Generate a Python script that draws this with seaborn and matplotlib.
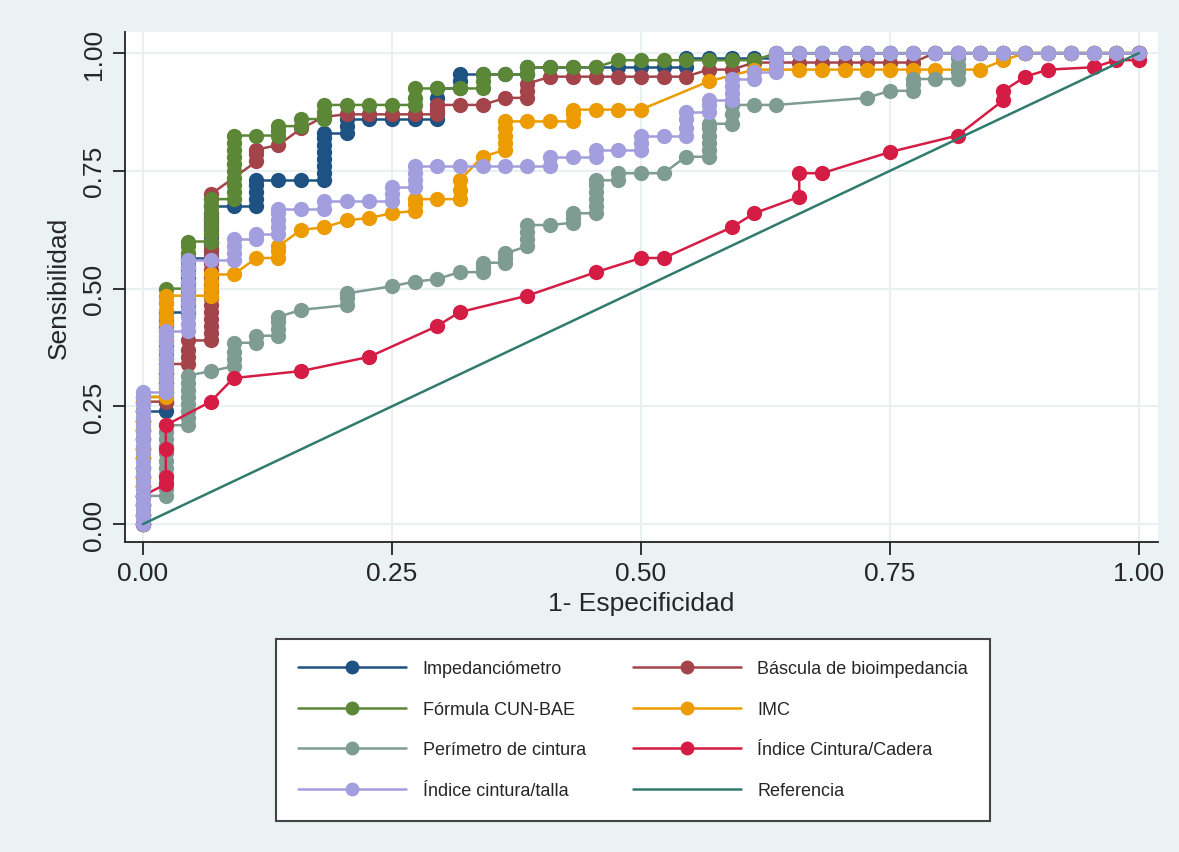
import pandas as pd
import seaborn as sns
import matplotlib.pyplot as plt
from matplotlib.lines import Line2D

# 1 - especificidad: one step per column of points (44 negatives)
fpr_steps = [0.000, 0.023, 0.045, 0.068, 0.091, 0.114, 0.136, 0.159, 0.182, 0.205,
             0.227, 0.250, 0.273, 0.295, 0.318, 0.341, 0.364, 0.386, 0.409, 0.432,
             0.455, 0.477, 0.500, 0.523, 0.545, 0.568, 0.591, 0.614, 0.636, 0.659,
             0.682, 0.705, 0.727, 0.750, 0.773, 0.795, 0.818, 0.841, 0.864, 0.886,
             0.909, 0.932, 0.955, 0.977, 1.000]

# sensitivity values read at each column (one list per column of fpr_steps)
imp_sens = [[0, .02, .04, .06, .08, .10, .12, .14, .16, .18, .20, .22, .24],
            [.24, .26, .28, .30, .32, .34, .36, .38, .40, .42, .435, .45],
            [.45, .465, .48, .495, .51, .525, .54, .555, .565],
            [.565, .58, .595, .61, .625, .64, .655, .675],
            [.675], [.675, .69, .705, .72, .73], [.73], [.73],
            [.73, .745, .76, .775, .79, .805, .82, .83], [.83, .845, .86],
            [.86], [.86], [.86], [.86, .875, .89, .905, .925], [.925, .94, .955],
            [.955], [.955], [.955, .97], [.97], [.97], [.97], [.97], [.97], [.97],
            [.97, .99], [.99], [.99], [.99], [.99, 1],
            [1], [1], [1], [1], [1], [1], [1], [1], [1], [1], [1], [1], [1], [1], [1], [1]]

bas_sens = [[0, .02, .04, .06, .08, .10, .12, .14, .16, .18, .20, .22, .24, .26],
            [.26, .28, .30, .32, .34], [.34, .355, .37, .39],
            [.39, .405, .42, .435, .45, .465, .48, .495, .51, .525, .54, .555, .57,
             .585, .60, .615, .63, .645, .66, .675, .69, .70],
            [], [.77, .785, .795], [.805], [.84], [.865],
            [.87], [.87], [.87], [.87], [.87, .88, .89], [.89], [.89], [.905],
            [.905, .92, .935], [.95], [.95], [.95], [.95], [.95], [.95], [.95],
            [.965], [.965], [.98], [.98], [.98], [.98], [.98], [.98], [.98], [.98],
            [1], [1], [1], [1], [1], [1], [1], [1], [1], [1]]

cun_sens = [[0, .02, .04, .06, .08, .10, .12, .14, .16, .18, .20, .22, .24, .26, .27],
            [.27, .29, .31, .33, .35, .37, .39, .41, .43, .45, .47, .485, .50],
            [.50, .515, .53, .545, .56, .575, .59, .60],
            [.60, .615, .63, .645, .66, .675, .69],
            [.69, .705, .72, .735, .75, .765, .78, .795, .81, .825],
            [.825], [.825, .835, .845], [.845, .86], [.86, .875, .89],
            [.89], [.89], [.89], [.89, .905, .925], [.925], [.925],
            [.925, .94, .955], [.955], [.955, .97], [.97], [.97], [.97],
            [.985], [.985], [.985], [.985], [.985], [.985], [.985],
            [1], [1], [1], [1], [1], [1], [1], [1], [1], [1], [1], [1], [1], [1], [1], [1], [1]]

imc_sens = [[0, .02, .04, .06, .08, .10, .12, .14, .16, .18, .20, .22, .24, .26, .27],
            [.27, .29, .31, .33, .35, .37, .39, .41, .425, .44, .455, .47, .485],
            [.485], [.485, .50, .515, .53], [.53], [.565], [.565, .58, .59],
            [.625], [.63], [.645], [.65], [.66], [.665, .68, .69], [.69],
            [.69, .71, .73], [.78], [.795, .81, .825, .84, .855], [.855], [.855],
            [.855, .87, .88], [.88], [.88], [.88], [], [], [.94], [], [.965],
            [.965], [.965], [.965], [.965], [.965], [.965], [.965], [.965], [.965], [.965],
            [.985], [1], [1], [1], [1], [1], [1]]

per_sens = [[0, .02, .04, .06],
            [.06, .075, .09, .105, .12, .135, .15, .165, .18, .195, .21],
            [.21, .225, .24, .255, .27, .285, .30, .315],
            [.325], [.335, .35, .365, .385], [.385, .40], [.40, .415, .43, .44],
            [.455], [], [.465, .48, .49], [], [.505], [.515], [.52], [.535],
            [.535, .545, .555], [.555, .565, .575], [.59, .605, .62, .635], [.635],
            [.64, .65, .66], [.66, .675, .69, .705, .72, .73], [.73, .745],
            [.745], [.745], [.78], [.78, .795, .81, .825, .84, .85], [.85, .87, .89],
            [.89], [.89], [], [], [], [.905], [.92], [.92, .935, .945], [.945],
            [.945, .96, .975, .99, 1],
            [1], [1], [1], [1], [1], [1], [1], [1]]

icc_sens = [[0, .06], [.085, .10, .16, .21], [], [.26], [.31], [], [], [.325],
            [], [], [.355], [], [], [.42], [.45], [], [], [.485], [], [], [.535],
            [], [.565], [.565], [], [], [.63], [.66], [], [.695, .745], [.745],
            [], [], [.79], [], [], [.825], [], [.90, .92], [.95], [.965], [],
            [.97], [.985], [.985, 1]]

ict_sens = [[0, .015, .03, .045, .06, .075, .09, .105, .12, .135, .15, .165, .18,
             .195, .21, .225, .24, .255, .27, .28],
            [.28, .295, .31, .325, .34, .355, .37, .385, .40, .41],
            [.41, .425, .44, .455, .47, .485, .50, .515, .53, .545, .56],
            [.56], [.56, .575, .59, .605], [.605, .615], [.615, .63, .645, .66, .67],
            [.67], [.67, .685], [.685], [.685], [.685, .70, .715],
            [.715, .73, .745, .76], [.76], [.76], [.76], [.76], [.76],
            [.76, .78], [.78], [.78, .795], [.795], [.795, .81, .825], [.825],
            [.825, .84, .86, .875], [.875, .89, .90], [.90, .915, .93, .945],
            [.945, .96], [.96, .975, .99, 1],
            [1], [1], [1], [1], [1], [1], [1], [1], [1], [1], [1], [1], [1], [1], [1], [1]]

ref_x = [0, 1]
ref_y = [0, 1]

series = ['Impedanciómetro', 'Báscula de bioimpedancia', 'Fórmula CUN-BAE', 'IMC',
          'Perímetro de cintura', 'Índice Cintura/Cadera', 'Índice cintura/talla']
sens_lists = [imp_sens, bas_sens, cun_sens, imc_sens, per_sens, icc_sens, ict_sens]
colors = ['#1d5283', '#a3434a', '#5b8737', '#ec9c00', '#7e9c92', '#d51c45', '#a39ede']
ref_color = '#2f7b6d'

rows = []
for name, sens in zip(series, sens_lists):
    for fx, col in zip(fpr_steps, sens):
        for s in col:
            rows.append({'curva': name, 'fpr': fx, 'sens': s})
df = pd.DataFrame(rows)

sns.set_style('white')
plt.rcParams['font.family'] = ['Liberation Sans', 'DejaVu Sans']

bg = '#eaf2f3'
fig = plt.figure(figsize=(11.79, 8.53), dpi=100, facecolor=bg)
ax = fig.add_axes([0.106, 0.3634, 0.876, 0.598])
ax.set_facecolor('white')

sns.lineplot(data=df, x='fpr', y='sens', hue='curva', hue_order=series,
             palette=colors, estimator=None, sort=False, marker='o',
             markersize=11, markeredgewidth=0, linewidth=1.8, legend=False, ax=ax)
sns.lineplot(x=ref_x, y=ref_y, color=ref_color, linewidth=1.8, ax=ax, legend=False)

ax.set_xlim(-0.018, 1.019)
ax.set_ylim(-0.038, 1.045)
ticks = [0, 0.25, 0.5, 0.75, 1.0]
ax.set_xticks(ticks)
ax.set_yticks(ticks)
ax.set_xticklabels(['0.00', '0.25', '0.50', '0.75', '1.00'])
ax.set_yticklabels(['0.00', '0.25', '0.50', '0.75', '1.00'], rotation=90, va='center')
ax.grid(True, color='#e9f0f1', linewidth=1.5)
ax.set_axisbelow(True)
for side in ['top', 'right']:
    ax.spines[side].set_visible(False)
for side in ['left', 'bottom']:
    ax.spines[side].set_color('#222222')
    ax.spines[side].set_linewidth(1.3)
ax.tick_params(axis='both', which='major', length=9, width=1.3, color='#222222',
               labelsize=19, pad=5, direction='out', bottom=True, left=True)
ax.set_xlabel('1- Especificidad', fontsize=19, labelpad=4)
ax.set_ylabel('Sensibilidad', fontsize=19, labelpad=8)

handles = []
for name, c in zip(series, colors):
    handles.append(Line2D([0], [0], color=c, linewidth=1.8, marker='o',
                          markersize=10, markeredgewidth=0, label=name))
handles.append(Line2D([0], [0], color=ref_color, linewidth=1.8, label='Referencia'))
order = [0, 2, 4, 6, 1, 3, 5, 7]
handles = [handles[i] for i in order]
leg = fig.legend(handles=handles, labels=[h.get_label() for h in handles], ncol=2,
                 loc='upper center', bbox_to_anchor=(0.537, 0.250),
                 fontsize=13, frameon=True, fancybox=False, edgecolor='#444444',
                 framealpha=1, handlelength=6.0, handletextpad=0.9, columnspacing=2.6,
                 labelspacing=1.3, borderpad=1.2, borderaxespad=0)
leg.get_frame().set_linewidth(1.5)
leg.get_frame().set_facecolor('white')

fig.savefig('out.png', dpi=100, facecolor=bg)
